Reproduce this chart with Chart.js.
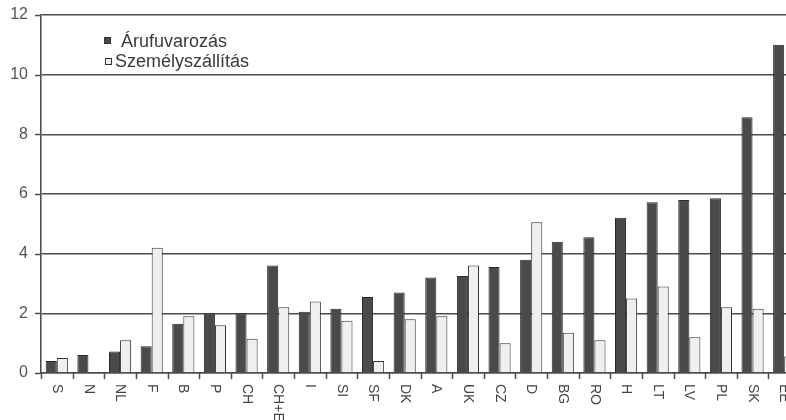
<!DOCTYPE html>
<html>
<head>
<meta charset="utf-8">
<script src="https://cdn.jsdelivr.net/npm/chart.js@4/dist/chart.umd.min.js"></script>
<style>
  html, body { margin: 0; padding: 0; background: #fff; overflow: hidden; }
  #wrap { width: 800px; height: 420px; }
</style>
</head>
<body>
<div id="wrap"><canvas id="chart" width="800" height="420"></canvas></div>
<script>
const categories = ['S', 'N', 'NL', 'F', 'B', 'P', 'CH', 'CH+E', 'I', 'SI', 'SF', 'DK',
    'A', 'UK', 'CZ', 'D', 'BG', 'RO', 'H', 'LT', 'LV', 'PL', 'SK', 'EE'];

// Árufuvarozás (dark bars)
const freight = [0.4, 0.6, 0.72, 0.9, 1.65, 2.0, 2.0, 3.6, 2.05, 2.15, 2.55, 2.7,
    3.2, 3.25, 3.55, 3.8, 4.4, 4.55, 5.2, 5.72, 5.8, 5.86, 8.57, 11.0];

// Személyszállítás (light bars)
const passenger = [0.5, 0, 1.1, 4.2, 1.9, 1.6, 1.15, 2.2, 2.4, 1.75, 0.4, 1.8,
    1.9, 3.6, 1.0, 5.05, 1.35, 1.1, 2.5, 2.9, 1.2, 2.2, 2.15, 0.55];

const yTicks = [0, 2, 4, 6, 8, 10, 12];

const seriesNames = ['Árufuvarozás', 'Személyszállítás'];
const darkFill = '#4a4a4a';
const lightFill = '#efefef';
const lineColor = '#4d4d4d';
const fontFamily = '"Liberation Sans", Arial, sans-serif';

// tick marks, rotated category labels and the legend inside the plot
const customDraw = {
    id: 'customDraw',
    afterDraw(chart) {
        const ctx = chart.ctx;
        const xScale = chart.scales.x;
        const yScale = chart.scales.y;
        const area = chart.chartArea;
        ctx.save();

        // tick marks
        ctx.strokeStyle = lineColor;
        ctx.lineWidth = 1.5;
        ctx.beginPath();
        const step = (area.right - area.left) / categories.length;
        for (let i = 0; i <= categories.length; i++) {
            const x = Math.round(area.left + i * step) + 0.5;
            ctx.moveTo(x, area.bottom);
            ctx.lineTo(x, area.bottom + 6);
        }
        yTicks.forEach(v => {
            const y = Math.round(yScale.getPixelForValue(v)) + 0.5;
            ctx.moveTo(area.left - 6, y);
            ctx.lineTo(area.left, y);
        });
        ctx.stroke();

        ctx.fillStyle = '#444';
        ctx.font = '14px ' + fontFamily;
        ctx.textAlign = 'left';
        ctx.textBaseline = 'middle';
        categories.forEach((label, i) => {
            const x = xScale.getPixelForTick(i);
            ctx.save();
            ctx.translate(x, 384);
            ctx.rotate(Math.PI / 2);
            ctx.fillText(label, 0, 0);
            ctx.restore();
        });

        // legend
        ctx.font = '18px ' + fontFamily;
        ctx.lineWidth = 1;
        ctx.strokeStyle = '#333';
        ctx.fillStyle = darkFill;
        ctx.fillRect(104, 37, 7, 7);
        ctx.strokeRect(104.5, 37.5, 6, 6);
        ctx.fillStyle = '#3a3a3a';
        ctx.fillText(seriesNames[0], 121, 42);

        ctx.fillStyle = lightFill;
        ctx.fillRect(105, 58, 7, 7);
        ctx.strokeRect(105.5, 58.5, 6, 6);
        ctx.fillStyle = '#3a3a3a';
        ctx.fillText(seriesNames[1], 115, 62);
        ctx.restore();
    }
};

new Chart(document.getElementById('chart'), {
    type: 'bar',
    data: {
        labels: categories,
        datasets: [
            {
                label: seriesNames[0],
                data: freight,
                backgroundColor: darkFill,
                borderColor: '#2a2a2a',
                borderWidth: 1,
                categoryPercentage: 0.7,
                barPercentage: 1.0
            },
            {
                label: seriesNames[1],
                data: passenger,
                backgroundColor: lightFill,
                borderColor: '#333',
                borderWidth: 1,
                categoryPercentage: 0.7,
                barPercentage: 1.0
            }
        ]
    },
    options: {
        responsive: false,
        animation: false,
        layout: { padding: { top: 15, right: 0, left: 0, bottom: 0 } },
        plugins: {
            legend: { display: false },
            tooltip: { enabled: false }
        },
        scales: {
            x: {
                offset: true,
                grid: { display: false },
                border: { color: lineColor, width: 1.6 },
                ticks: { display: false },
                afterFit(scale) { scale.height = 47; scale.paddingLeft = 0; scale.paddingRight = 0; }
            },
            y: {
                min: 0,
                max: 12,
                afterBuildTicks(scale) { scale.ticks = yTicks.map(v => ({ value: v })); },
                grid: {
                    color: lineColor,
                    lineWidth: 1.6,
                    drawTicks: false
                },
                border: { color: lineColor, width: 1.6 },
                ticks: {
                    color: '#555',
                    font: { size: 16, family: fontFamily },
                    padding: 13
                },
                afterFit(scale) { scale.width = 41; scale.paddingTop = 0; scale.paddingBottom = 0; }
            }
        }
    },
    plugins: [customDraw]
});
</script>
</body>
</html>
